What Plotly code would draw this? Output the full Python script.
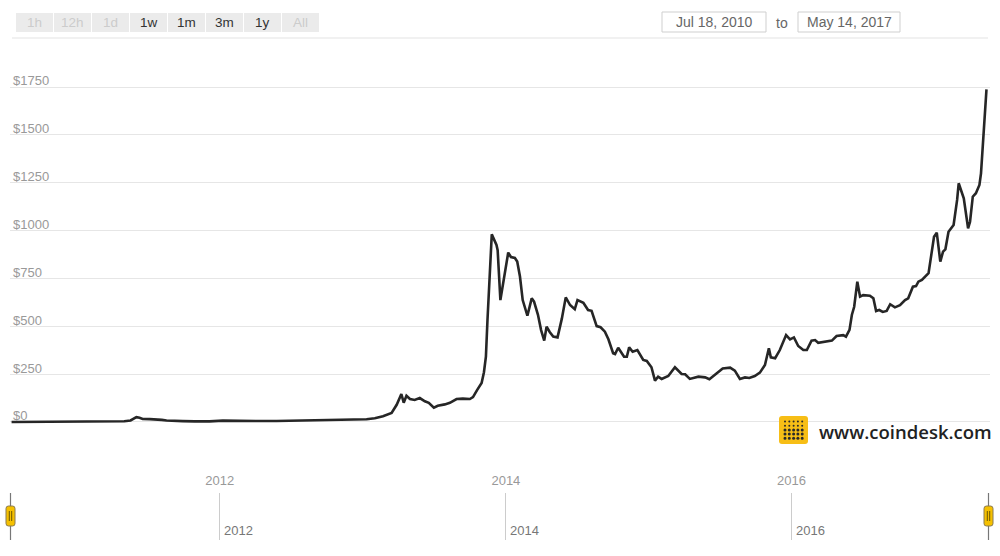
import plotly.graph_objects as go

# ---------------- data ----------------
dates_2010_2012 = ["2010-07-18", "2010-09-28", "2010-12-14", "2011-02-28", "2011-04-13", "2011-05-02",
                   "2011-05-18", "2011-06-02", "2011-06-10", "2011-06-18", "2011-07-06", "2011-07-23",
                   "2011-08-06", "2011-08-18", "2011-08-31", "2011-09-16", "2011-09-28", "2011-10-29",
                   "2011-12-06", "2012-01-09", "2012-02-21", "2012-04-12", "2012-05-25", "2012-06-28",
                   "2012-07-31", "2012-09-13", "2012-11-10", "2012-12-11"]
prices_2010_2012 = [0.07, 0.06, 0.25, 0.9, 1.5, 3.5, 8, 25, 22, 16, 15, 14, 11, 8, 8, 5, 4.5, 3,
                    3, 7, 5, 5, 5, 6.5, 9, 11, 11, 13]

dates_2013 = ["2013-01-10", "2013-01-31", "2013-02-21", "2013-03-15", "2013-03-28", "2013-04-09",
              "2013-04-15", "2013-04-22", "2013-05-01", "2013-05-13", "2013-05-26", "2013-06-08",
              "2013-06-18", "2013-07-01", "2013-07-11", "2013-07-29", "2013-08-11", "2013-08-28",
              "2013-09-13", "2013-10-01", "2013-10-09", "2013-10-19", "2013-10-27", "2013-10-31",
              "2013-11-06", "2013-11-11", "2013-11-15", "2013-11-21", "2013-11-26", "2013-12-08",
              "2013-12-11", "2013-12-18", "2013-12-28"]
prices_2013 = [14, 20, 30, 47, 90, 146, 101, 137, 120, 115, 125, 108, 100, 75, 85, 92, 100, 120,
               122, 120, 130, 165, 190, 204, 260, 341, 533, 800, 980, 925, 898, 637, 760]

dates_2014 = ["2014-01-07", "2014-01-14", "2014-01-24", "2014-01-30", "2014-02-06", "2014-02-13",
              "2014-02-19", "2014-02-25", "2014-03-08", "2014-03-14", "2014-03-24", "2014-04-01",
              "2014-04-09", "2014-04-15", "2014-04-23", "2014-05-02", "2014-05-13", "2014-05-24",
              "2014-06-03", "2014-06-14", "2014-06-26", "2014-07-03", "2014-07-18", "2014-07-30",
              "2014-08-08", "2014-08-21", "2014-08-31", "2014-09-11", "2014-09-20", "2014-10-02",
              "2014-10-07", "2014-10-15", "2014-10-30", "2014-11-06", "2014-11-12", "2014-11-21",
              "2014-12-03", "2014-12-18", "2014-12-27"]
prices_2014 = [885, 862, 857, 838, 760, 637, 590, 555, 646, 629, 560, 480, 425, 498, 470, 446, 442,
               540, 651, 611, 589, 637, 623, 585, 581, 501, 495, 472, 432, 359, 355, 388, 341, 341,
               390, 367, 376, 324, 319]

dates_2015 = ["2015-01-08", "2015-01-17", "2015-01-25", "2015-02-03", "2015-02-20", "2015-03-09",
              "2015-03-26", "2015-04-04", "2015-04-16", "2015-05-08", "2015-05-25", "2015-06-05",
              "2015-06-19", "2015-07-09", "2015-07-28", "2015-08-09", "2015-08-22", "2015-09-04",
              "2015-09-15", "2015-09-29", "2015-10-12", "2015-10-25", "2015-11-04", "2015-11-09",
              "2015-11-20", "2015-12-02", "2015-12-18", "2015-12-28"]
prices_2015 = [286, 216, 237, 225, 240, 286, 251, 249, 225, 237, 233, 223, 246, 280, 284, 268, 225,
               233, 230, 240, 258, 298, 385, 338, 333, 376, 454, 432]

dates_2016 = ["2016-01-07", "2016-01-18", "2016-01-31", "2016-02-09", "2016-02-21", "2016-03-01",
              "2016-03-09", "2016-03-26", "2016-04-13", "2016-04-25", "2016-05-12", "2016-05-19",
              "2016-05-28", "2016-06-03", "2016-06-09", "2016-06-17", "2016-06-24", "2016-07-02",
              "2016-07-19", "2016-07-28", "2016-08-04", "2016-08-12", "2016-08-21", "2016-08-31",
              "2016-09-09", "2016-09-21", "2016-10-04", "2016-10-17", "2016-10-25", "2016-11-06",
              "2016-11-14", "2016-11-20", "2016-11-29", "2016-12-16", "2016-12-24", "2016-12-30"]
prices_2016 = [442, 397, 376, 376, 425, 428, 414, 418, 425, 449, 454, 446, 481, 559, 602, 733, 655,
               663, 660, 646, 580, 585, 575, 580, 615, 599, 610, 637, 646, 707, 710, 733, 742, 777,
               881, 968]

dates_2017 = ["2017-01-06", "2017-01-15", "2017-01-22", "2017-01-28", "2017-02-05", "2017-02-14",
              "2017-02-18", "2017-02-27", "2017-03-03", "2017-03-16", "2017-03-27", "2017-04-01",
              "2017-04-08", "2017-04-16", "2017-04-25", "2017-04-29", "2017-05-05", "2017-05-13"]
prices_2017 = [989, 838, 890, 902, 994, 1020, 1029, 1160, 1247, 1169, 1012, 1046, 1177, 1195, 1238,
               1299, 1490, 1738]

dates = dates_2010_2012 + dates_2013 + dates_2014 + dates_2015 + dates_2016 + dates_2017
prices = prices_2010_2012 + prices_2013 + prices_2014 + prices_2015 + prices_2016 + prices_2017

y_ticks = [0, 250, 500, 750, 1000, 1250, 1500, 1750]
y_tick_labels = ["$" + str(v) for v in y_ticks]
year_ticks = ["2012-01-01", "2014-01-01", "2016-01-01"]
year_labels = ["2012", "2014", "2016"]
range_buttons = ["1h", "12h", "1d", "1w", "1m", "3m", "1y", "All"]
range_enabled = [False, False, False, True, True, True, True, False]
date_from = "Jul 18, 2010"
date_to = "May 14, 2017"
brand = "www.coindesk.com"

# ---------------- figure ----------------
W, H = 1000, 556
FONT = "Liberation Sans, Arial, Helvetica, sans-serif"


def px(x):
    return x / W


def py(y):
    return (H - y) / H


x_range = ["2010-07-14", "2017-05-22"]

fig = go.Figure()
fig.add_trace(go.Scatter(x=dates, y=prices, mode="lines",
                         line=dict(color="#262626", width=2.6),
                         hoverinfo="skip", xaxis="x", yaxis="y", showlegend=False))
# navigator series (invisible, keeps the navigator axis alive)
fig.add_trace(go.Scatter(x=dates, y=prices, mode="lines", line=dict(width=0, color="rgba(0,0,0,0)"),
                         hoverinfo="skip", xaxis="x2", yaxis="y2", showlegend=False))

shapes = []
annotations = []


def rrect(x0, y0, x1, y1, r, fill, line_color, lw=1):
    rx, ry = r / W, r / H
    X0, X1 = px(x0), px(x1)
    Y0, Y1 = py(y1), py(y0)  # bottom, top in paper
    path = (f"M{X0+rx},{Y0} L{X1-rx},{Y0} Q{X1},{Y0} {X1},{Y0+ry} L{X1},{Y1-ry} "
            f"Q{X1},{Y1} {X1-rx},{Y1} L{X0+rx},{Y1} Q{X0},{Y1} {X0},{Y1-ry} "
            f"L{X0},{Y0+ry} Q{X0},{Y0} {X0+rx},{Y0} Z")
    shapes.append(dict(type="path", xref="paper", yref="paper", path=path,
                       fillcolor=fill, line=dict(color=line_color, width=lw), layer="above"))


def rect(x0, y0, x1, y1, fill, line_color, lw=1, layer="above"):
    shapes.append(dict(type="rect", xref="paper", yref="paper",
                       x0=px(x0), x1=px(x1), y0=py(y1), y1=py(y0),
                       fillcolor=fill, line=dict(color=line_color, width=lw), layer=layer))


def hline(x0, x1, y, color, lw=1):
    shapes.append(dict(type="line", xref="paper", yref="paper", x0=px(x0), x1=px(x1),
                       y0=py(y), y1=py(y), line=dict(color=color, width=lw)))


def vline(x, y0, y1, color, lw=1):
    shapes.append(dict(type="line", xref="paper", yref="paper", x0=px(x), x1=px(x),
                       y0=py(y0), y1=py(y1), line=dict(color=color, width=lw)))


def text(x, y, s, size, color, xanchor="center", family=FONT, weight="normal"):
    annotations.append(dict(x=px(x), y=py(y), xref="paper", yref="paper", text=s, showarrow=False,
                            xanchor=xanchor, yanchor="middle",
                            font=dict(family=family, size=size, color=color, weight=weight)))


# range selector buttons
for i, (lab, en) in enumerate(zip(range_buttons, range_enabled)):
    bx = 16 + 38 * i
    rect(bx, 13, bx + 37, 32, "#ebebeb", "rgba(0,0,0,0)", 0)
    text(bx + 18.5, 22.5, lab, 13.5, "#333333" if en else "#cccccc")

# separator line under the toolbar
hline(12, 988, 38, "#ececec", 1.5)

# date input boxes
rect(662, 12, 766, 32, "#ffffff", "#cfcfcf", 1)
text(714, 22.5, date_from, 14, "#666666")
text(782, 23, "to", 14, "#666666")
rect(798, 12, 900, 32, "#ffffff", "#cfcfcf", 1)
text(849, 22.5, date_to, 14, "#666666")

# navigator year labels (placed on the navigator's date axis)
for d, lab in zip(year_ticks, year_labels):
    annotations.append(dict(x=d, xref="x2", y=py(530.5), yref="paper", text=lab, showarrow=False,
                            xanchor="left", yanchor="middle", xshift=2,
                            font=dict(family=FONT, size=13, color="#777777")))

# navigator handles
for hx in (10.5, 988.5):
    vline(hx, 493, 540, "#777777", 1.2)
    rrect(hx - 4.5, 506, hx + 4.5, 526, 2.5, "#f5c000", "#8a7a50", 1)
    vline(hx - 1.2, 511, 521, "#6b5500", 1)
    vline(hx + 1.2, 511, 521, "#6b5500", 1)

# coindesk logo
rrect(779, 416, 808, 444, 3, "#f7be16", "#f7be16", 0)
for r in range(5):
    for c in range(5):
        rad = 1.0 if r < 2 else 1.5
        cx = 785 + c * 4.3
        cy = 421.5 + r * 4.2
        shapes.append(dict(type="circle", xref="paper", yref="paper",
                           x0=px(cx - rad), x1=px(cx + rad), y0=py(cy + rad), y1=py(cy - rad),
                           fillcolor="#2a2a2a", line=dict(width=0), layer="above"))
text(817, 431, brand, 18.5, "#222222", xanchor="left", family="Open Sans, Lato, sans-serif",
     weight=600)

fig.update_layout(
    width=W, height=H,
    margin=dict(l=0, r=0, t=0, b=0, pad=0),
    paper_bgcolor="white", plot_bgcolor="white",
    showlegend=False,
    font=dict(family=FONT),
    xaxis=dict(domain=[0.01, 0.99], range=x_range, type="date", anchor="y",
               showgrid=False, zeroline=False, showline=False,
               tickmode="array", tickvals=year_ticks, ticktext=year_labels,
               ticks="outside", ticklen=18, tickcolor="rgba(0,0,0,0)",
               tickfont=dict(size=13, color="#999999", family=FONT),
               automargin=False, fixedrange=True),
    yaxis=dict(domain=[py(450), py(50)], range=[-146.3, 1943.3], anchor="x",
               tickmode="array", tickvals=y_ticks, ticktext=y_tick_labels,
               ticklabelposition="inside top", ticklabelshift=3, ticks="",
               showgrid=True, gridcolor="#e6e6e6", gridwidth=1,
               zeroline=False, showline=False,
               tickfont=dict(size=13, color="#999999", family=FONT),
               automargin=False, fixedrange=True),
    xaxis2=dict(domain=[0.01, 0.99], range=x_range, type="date", anchor="y2",
                showgrid=True, gridcolor="#cccccc", gridwidth=1,
                zeroline=False, showline=False,
                tickmode="array", tickvals=year_ticks, ticktext=year_labels,
                showticklabels=False, ticks="",
                automargin=False, fixedrange=True),
    yaxis2=dict(domain=[py(540), py(493)], range=[-5000, -4000], anchor="x2",
                showgrid=False, zeroline=False, showline=False, showticklabels=False,
                fixedrange=True),
    shapes=shapes,
    annotations=annotations,
)

fig.write_html("out.html", config={"displayModeBar": False},
               post_script="document.body.style.margin='0';document.body.style.overflow='hidden';")
